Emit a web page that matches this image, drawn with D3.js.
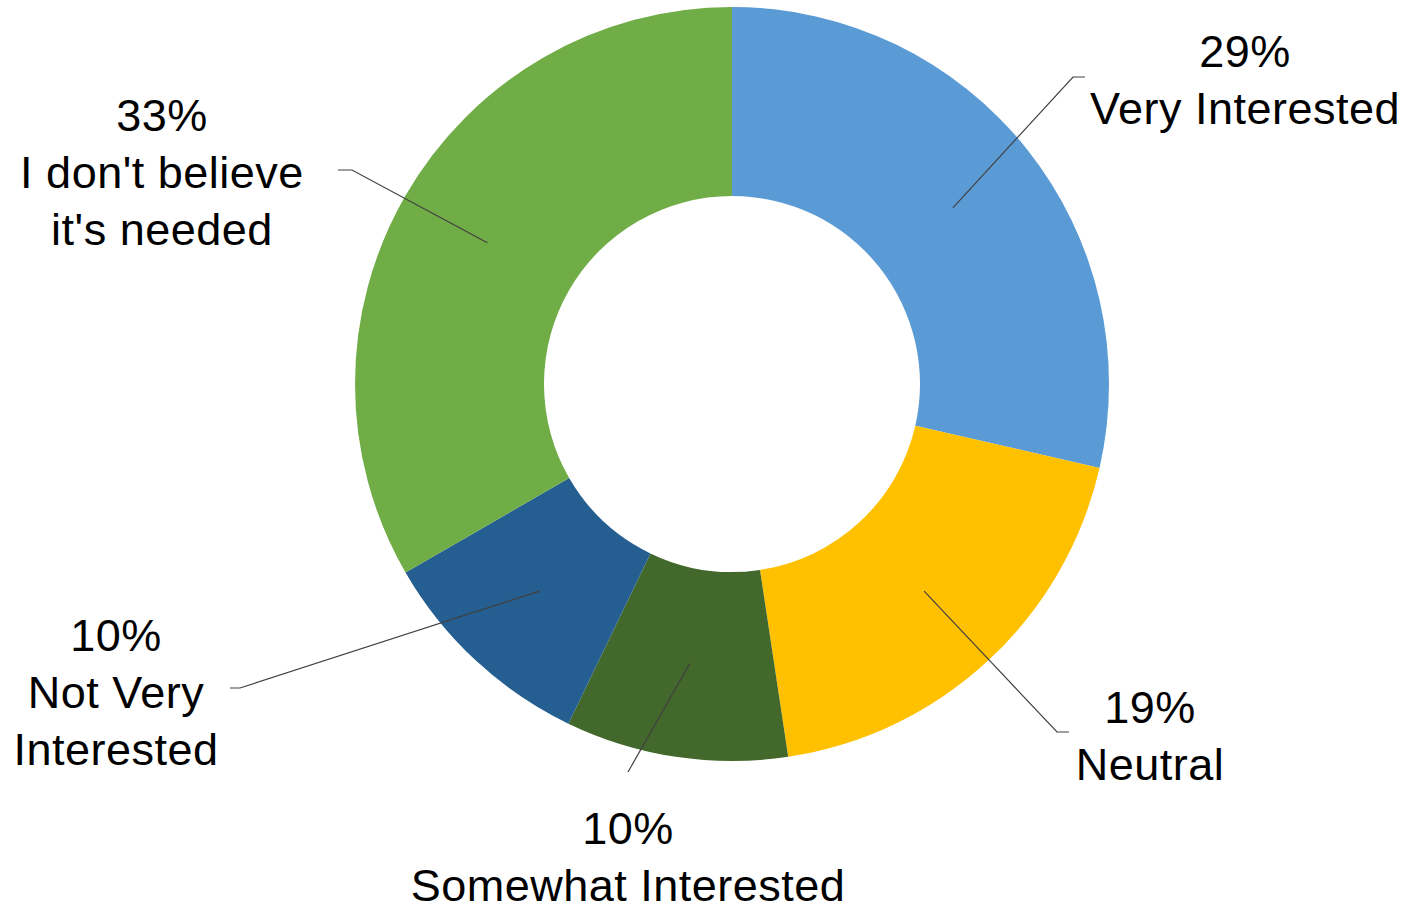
<!DOCTYPE html>
<html>
<head>
<meta charset="utf-8">
<script src="https://cdn.jsdelivr.net/npm/d3@7"></script>
<style>
  body { margin: 0; background: #fff; }
  svg text { font-family: "Liberation Sans", Arial, sans-serif; font-size: 45px; letter-spacing: 0.5px; fill: #000; }
</style>
</head>
<body>
<div id="chart-area"></div>
<script>
// data (response counts, 21 answers)
let categories = ["Very Interested", "Neutral", "Somewhat Interested", "Not Very Interested", "I don't believe it's needed"];
let counts = [6, 4, 2, 2, 7];
let colors = ["#5B9BD5", "#FFC000", "#43682B", "#255E91", "#70AD47"];
// label text split into lines, as in the picture
let labelLines = [
	["Very Interested"],
	["Neutral"],
	["Somewhat Interested"],
	["Not Very", "Interested"],
	["I don't believe", "it's needed"]
];

// layout
var width = 1405,
	height = 909;
let cx = 732, cy = 384;
let outerR = 377, innerR = 188;
let lineH = 57;
// where each label block sits and where its leader line ends
let labelPos = [
	{x: 1245, y: 67, elbow: [1073, 77], tip: [1085, 77]},
	{x: 1150, y: 723, elbow: [1057, 732], tip: [1069, 732]},
	{x: 628, y: 844, elbow: [628, 772], tip: null},
	{x: 116, y: 651, elbow: [240, 688], tip: [230, 688]},
	{x: 162, y: 131, elbow: [352, 170], tip: [338, 170]}
];

let total = d3.sum(counts);
let data = categories.map((c, i) => ({name: c, value: counts[i], color: colors[i], lines: labelLines[i], pos: labelPos[i]}));

let svg = d3.select('#chart-area').append('svg')
	.attr('width', width)
	.attr('height', height);

let g = svg.append('g')
	.attr("transform", "translate(" + cx + "," + cy + ")");

let pie = d3.pie()
	.sort(null)
	.value(d => d.value);

let arc = d3.arc()
	.innerRadius(innerR)
	.outerRadius(outerR);

let arcs = pie(data);

g.selectAll("path.slice")
	.data(arcs)
	.enter()
	.append("path")
	.attr("class", "slice")
	.attr("fill", d => d.data.color)
	.attr("d", arc);

// leader lines from the middle of each slice
svg.selectAll("polyline")
	.data(arcs)
	.enter()
	.append("polyline")
	.attr("fill", "none")
	.attr("stroke", "#404040")
	.attr("stroke-width", 1.2)
	.attr("points", d => {
		let c = arc.centroid(d);
		let pts = [[c[0] + cx, c[1] + cy], d.data.pos.elbow];
		if (d.data.pos.tip) pts.push(d.data.pos.tip);
		return pts.map(p => p.join(",")).join(" ");
	});

let fmt = d3.format(".0%");

let labels = svg.selectAll("text.lbl")
	.data(arcs)
	.enter()
	.append("text")
	.attr("class", "lbl")
	.attr("text-anchor", "middle")
	.attr("x", d => d.data.pos.x)
	.attr("y", d => d.data.pos.y);

labels.each(function(d) {
	let t = d3.select(this);
	let rows = [fmt(d.data.value / total)].concat(d.data.lines);
	rows.forEach((r, i) => {
		t.append("tspan")
			.attr("x", d.data.pos.x)
			.attr("dy", i == 0 ? 0 : lineH)
			.text(r);
	});
});
</script>
</body>
</html>
